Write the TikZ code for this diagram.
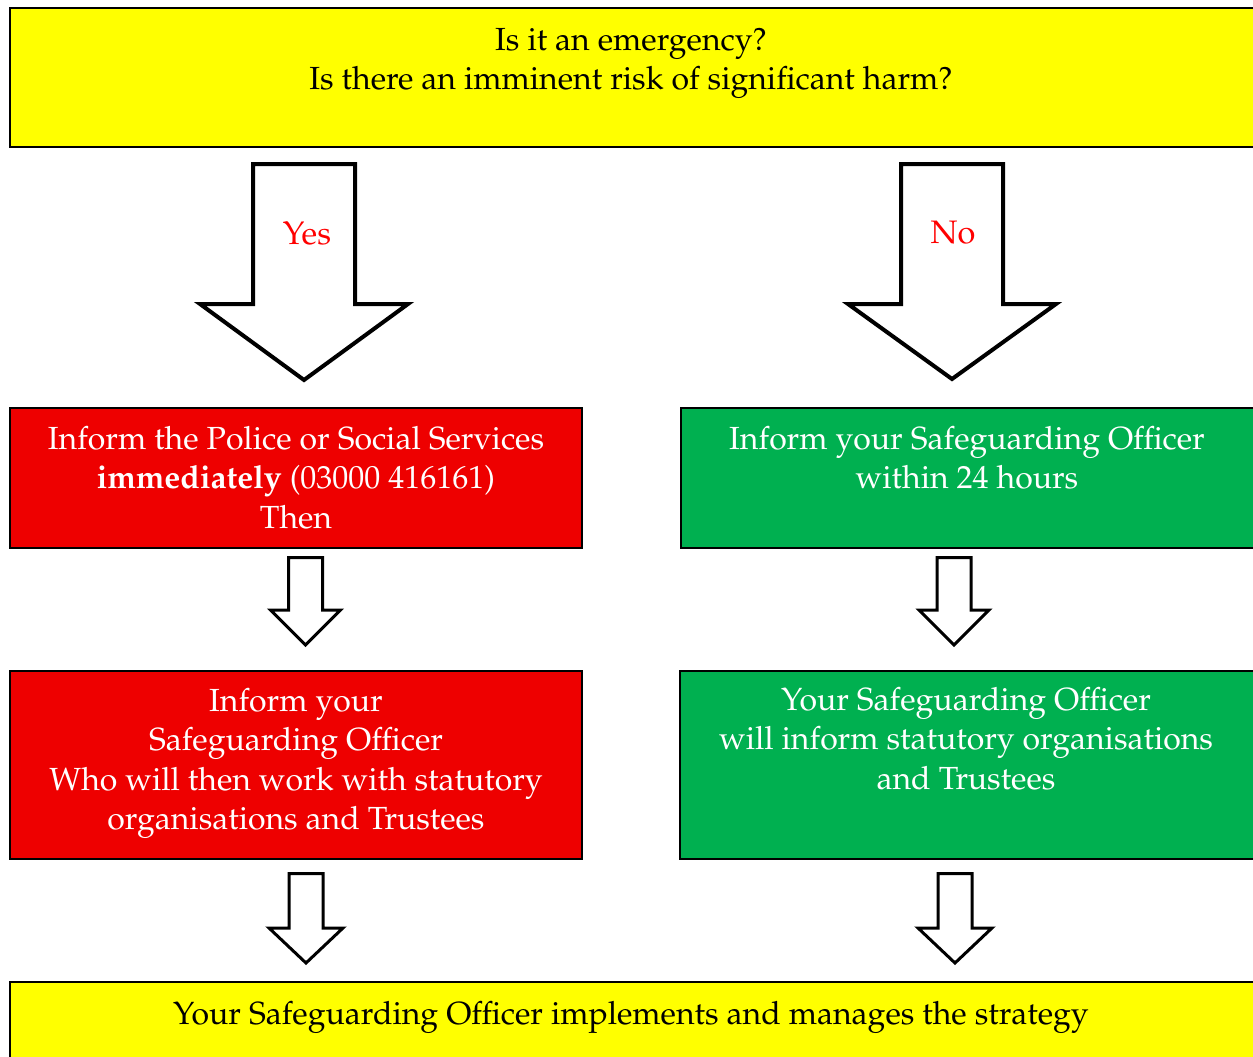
\documentclass[tikz,border=0pt]{standalone}
\usepackage[T1]{fontenc}
\renewcommand{\rmdefault}{ppl}
\definecolor{boxyellow}{HTML}{FFFF00}
\definecolor{boxred}{HTML}{EE0000}
\definecolor{boxgreen}{HTML}{00B050}
\definecolor{labred}{HTML}{FF0000}
\newcommand{\lnstrut}{\rule{0pt}{24pt}}
\begin{document}
\begin{tikzpicture}[x=1pt,y=-1pt,
  boxstyle/.style={draw=black, line width=2pt, inner sep=0pt, outer sep=0pt, anchor=north west},
  bigarrow/.style={draw=black, fill=white, line width=4pt, line join=miter, miter limit=10},
  smallarrow/.style={draw=black, fill=white, line width=3pt, line join=miter, miter limit=10},
  txt/.style={anchor=north, inner sep=0pt, outer sep=0pt, align=center, font=\fontsize{32}{39.5}\selectfont},
  lab/.style={anchor=base, inner sep=0pt, text=labred, font=\fontsize{32.5}{38}\selectfont}]
\useasboundingbox (0,0) rectangle (1253,1057);
\fill[white] (0,0) rectangle (1253,1057);

% boxes
\node[boxstyle, fill=boxyellow, minimum width=1254pt, minimum height=139pt] (top) at (10,8) {};
\node[boxstyle, fill=boxred, minimum width=572pt, minimum height=140pt] (red1) at (10,408) {};
\node[boxstyle, fill=boxgreen, minimum width=580pt, minimum height=140pt] (green1) at (681,408) {};
\node[boxstyle, fill=boxred, minimum width=572pt, minimum height=188pt] (red2) at (10,671) {};
\node[boxstyle, fill=boxgreen, minimum width=580pt, minimum height=188pt] (green2) at (680,671) {};
\node[boxstyle, fill=boxyellow, minimum width=1254pt, minimum height=120pt] (bottom) at (10,982) {};

% texts
\node[txt] (toptext) at (631,26) {\lnstrut Is it an emergency?\\Is there an imminent risk of significant harm?};
\node[txt, text=white] (red1text) at (296,425) {\lnstrut Inform the Police or Social Services\\\textbf{immediately} (03000 416161)\\Then};
\node[txt, text=white] (green1text) at (967,425) {\lnstrut Inform your Safeguarding Officer\\within 24 hours};
\node[txt, text=white] (red2text) at (296,687) {\lnstrut Inform your\\Safeguarding Officer\\Who will then work with statutory\\organisations and Trustees};
\node[txt, text=white] (green2text) at (966,686) {\lnstrut Your Safeguarding Officer\\will inform statutory organisations\\and Trustees};
\node[txt] (bottomtext) at (631,1000) {\lnstrut Your Safeguarding Officer implements and manages the strategy};

% big arrows
\draw[bigarrow] (253,164) -- (355,164) -- (355,304) -- (408,304) -- (304,380) -- (200,304) -- (253,304) -- cycle;
\draw[bigarrow] (901,164) -- (1003,164) -- (1003,304) -- (1056,304) -- (952,379) -- (848,304) -- (901,304) -- cycle;
\node[lab] (yes) at (307,244) {Yes};
\node[lab] (no) at (953,243) {No};

% small arrows
\draw[smallarrow] (288.5,557.5) -- (322.5,557.5) -- (322.5,610) -- (340.5,610) -- (305.5,645) -- (270.5,610) -- (288.5,610) -- cycle;
\draw[smallarrow] (937,557.5) -- (971,557.5) -- (971,610) -- (989,610) -- (954,645) -- (919,610) -- (937,610) -- cycle;
\draw[smallarrow] (289,873.5) -- (323,873.5) -- (323,928) -- (343,928) -- (306,963) -- (269,928) -- (289,928) -- cycle;
\draw[smallarrow] (938,873.5) -- (972,873.5) -- (972,928) -- (992,928) -- (955,963) -- (918,928) -- (938,928) -- cycle;
\end{tikzpicture}
\end{document}
